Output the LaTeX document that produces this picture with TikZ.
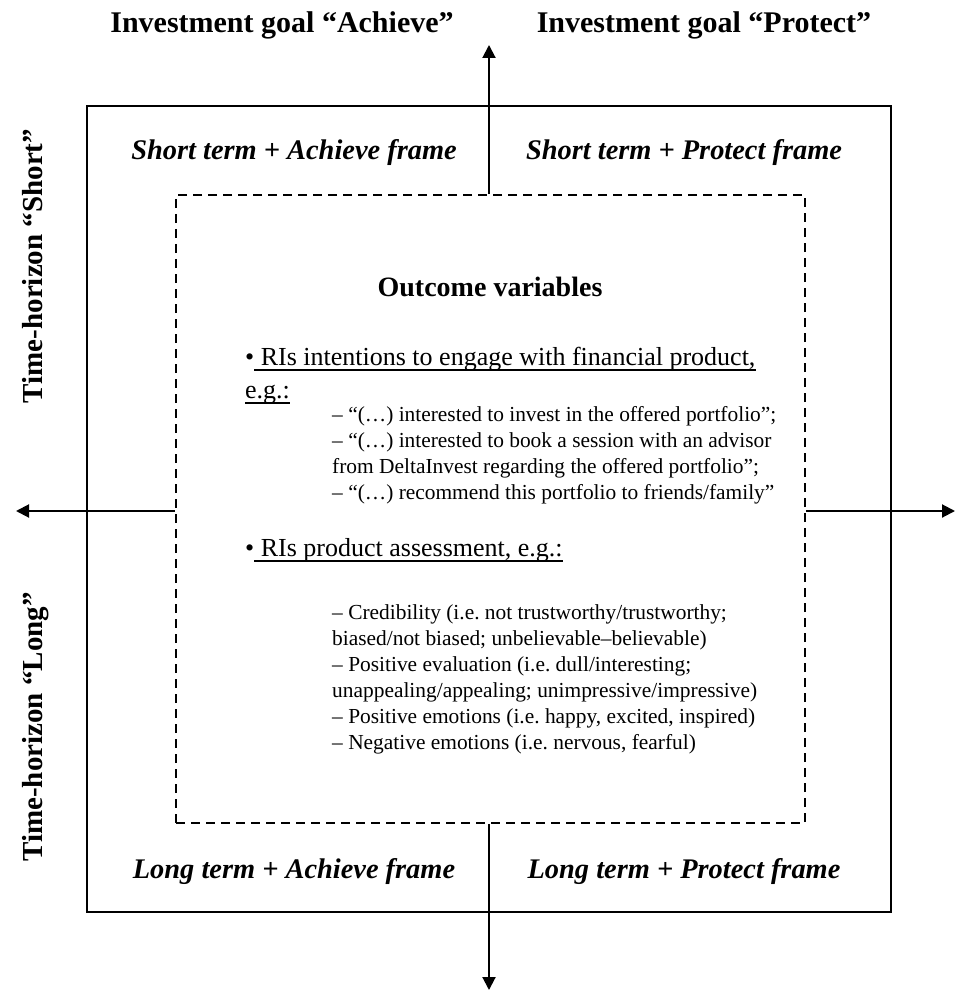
\documentclass[tikz,border=0pt]{standalone}
\usepackage{fontspec}
\setmainfont{Liberation Serif}
\usetikzlibrary{arrows.meta}
\begin{document}
\frenchspacing
\begin{tikzpicture}[x=1pt,y=-1pt,
  box/.style={draw,line width=2pt,inner sep=0pt},
  dbox/.style={draw,line width=1.8pt,dash pattern=on 9pt off 6pt,inner sep=0pt},
  axis/.style={line width=2pt,-{Triangle[length=13pt,width=13pt]}},
  goal/.style={font=\fontsize{30}{36}\selectfont\bfseries,inner sep=0pt,anchor=base},
  quad/.style={font=\fontsize{28.4}{34}\selectfont\bfseries\itshape,inner sep=0pt,anchor=base},
  horiz/.style={font=\fontsize{29}{35}\selectfont\bfseries,inner sep=0pt,anchor=base,rotate=90},
  head/.style={font=\fontsize{28}{34}\selectfont\bfseries,inner sep=0pt,anchor=base},
  big/.style={font=\fontsize{26}{33}\selectfont,inner sep=0pt,anchor=base west},
  small/.style={font=\fontsize{21.4}{26}\selectfont,inner sep=0pt,anchor=base west},
  ul/.style={line width=1.6pt}]
\useasboundingbox (0,0) rectangle (956,992);
\node[box,minimum width=804pt,minimum height=806pt] (outer) at (489,509) {};
\node[dbox,minimum width=629pt,minimum height=628pt] (inner) at (490.5,509) {};
\coordinate (tTip) at (489,45);
\coordinate (bTip) at (489,990);
\coordinate (lTip) at (16,511);
\coordinate (rTip) at (955,511);
\draw[axis] (inner.north -| tTip) -- (tTip);
\draw[axis] (inner.south -| bTip) -- (bTip);
\draw[axis] (inner.west |- lTip) -- (lTip);
\draw[axis] (inner.east |- rTip) -- (rTip);
\node[goal] (gA) at (282,33) {Investment goal “Achieve”};
\node[goal] (gP) at (704,33) {Investment goal “Protect”};
\node[quad] (qSA) at (294,160) {Short term + Achieve frame};
\node[quad] (qSP) at (684,160) {Short term + Protect frame};
\node[quad] (qLA) at (294,878) {Long term + Achieve frame};
\node[quad] (qLP) at (684,878) {Long term + Protect frame};
\node[horiz] (hS) at (42,266) {Time-horizon “Short”};
\node[horiz] (hL) at (42,727) {Time-horizon “Long”};
\node[head] (ov) at (490,296) {Outcome variables};
\node[big] (b1) at (245,365) {• RIs intentions to engage with financial product,};
\node[big] (b1b) at (245,398) {e.g.:};
\draw[ul] ([xshift=9pt,yshift=-5pt]b1.base west) -- ([yshift=-5pt]b1.base east);
\draw[ul] ([yshift=-5pt]b1b.base west) -- ([yshift=-5pt]b1b.base east);
\node[small] (s1) at (332,421) {– “(…) interested to invest in the offered portfolio”;};
\node[small] (s2) at (332,447) {– “(…) interested to book a session with an advisor};
\node[small] (s3) at (332,473) {from DeltaInvest regarding the offered portfolio”;};
\node[small] (s4) at (332,499) {– “(…) recommend this portfolio to friends/family”};
\node[big] (b2) at (245,556) {• RIs product assessment, e.g.:};
\draw[ul] ([xshift=9pt,yshift=-5pt]b2.base west) -- ([yshift=-5pt]b2.base east);
\node[small] (c1) at (332,619) {– Credibility (i.e. not trustworthy/trustworthy;};
\node[small] (c2) at (332,645) {biased/not biased; unbelievable–believable)};
\node[small] (c3) at (332,671) {– Positive evaluation (i.e. dull/interesting;};
\node[small] (c4) at (332,697) {unappealing/appealing; unimpressive/impressive)};
\node[small] (c5) at (332,723) {– Positive emotions (i.e. happy, excited, inspired)};
\node[small] (c6) at (332,749) {– Negative emotions (i.e. nervous, fearful)};
\end{tikzpicture}
\end{document}
